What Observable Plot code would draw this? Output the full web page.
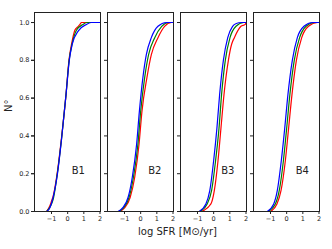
<!DOCTYPE html>
<html>
<head>
<meta charset="utf-8">
<script src="https://cdn.jsdelivr.net/npm/d3@7"></script>
<script src="https://cdn.jsdelivr.net/npm/@observablehq/plot@0.6"></script>
<style>
  html, body { margin: 0; padding: 0; background: #fff; }
</style>
</head>
<body>
<div id="chart"></div>
<script>
const panels = ["B1", "B2", "B3", "B4"];
const seriesNames = ["red", "green", "blue"];
const xTicks = [-1, 0, 1, 2];
const yTicks = [0, 0.2, 0.4, 0.6, 0.8, 1.0];
const xLabel = "log SFR [M⊙/yr]";
const yLabel = "N°";

// Cumulative curves: [log SFR, fraction]
const b1Red   = [[-1.3,0],[-1.1,0.03],[-0.98,0.06],[-0.9,0.08],[-0.65,0.2],[-0.38,0.39],[-0.1,0.62],[0.08,0.8],[0.25,0.89],[0.45,0.96],[0.6,0.975],[0.76,0.99],[0.85,1.0],[2,1.0]];
const b1Green = [[-1.3,0],[-1.05,0.03],[-0.88,0.07],[-0.64,0.2],[-0.37,0.39],[-0.1,0.62],[0.09,0.8],[0.27,0.885],[0.55,0.96],[0.95,0.99],[1.2,1.0],[2,1.0]];
const b1Blue  = [[-1.31,0],[-1.1,0.02],[-0.9,0.074],[-0.63,0.2],[-0.37,0.39],[-0.1,0.62],[0.1,0.8],[0.28,0.885],[0.66,0.956],[1.17,0.99],[1.47,1.0],[2,1.0]];

const b2Red   = [[-1.3,0],[-0.98,0.02],[-0.65,0.074],[-0.37,0.18],[-0.1,0.356],[0.08,0.53],[0.39,0.71],[0.66,0.83],[1.07,0.92],[1.48,0.98],[1.9,1.0],[2,1.0]];
const b2Green = [[-1.35,0],[-1.05,0.02],[-0.72,0.074],[-0.45,0.18],[-0.17,0.356],[0.0,0.53],[0.25,0.71],[0.49,0.83],[0.87,0.92],[1.3,0.98],[1.73,1.0],[2,1.0]];
const b2Blue  = [[-1.4,0],[-1.1,0.02],[-0.78,0.074],[-0.52,0.18],[-0.25,0.356],[-0.08,0.53],[0.14,0.71],[0.35,0.83],[0.66,0.92],[1.07,0.98],[1.59,1.0],[2,1.0]];

const b3Red   = [[-0.75,0],[-0.17,0.04],[0.04,0.11],[0.27,0.27],[0.45,0.44],[0.64,0.62],[0.91,0.8],[1.11,0.885],[1.28,0.92],[1.69,0.98],[1.95,0.99],[2,1.0]];
const b3Green = [[-0.85,0],[-0.4,0.04],[-0.13,0.11],[0.12,0.27],[0.33,0.44],[0.49,0.62],[0.72,0.8],[1.01,0.92],[1.38,0.98],[1.85,1.0],[2,1.0]];
const b3Blue  = [[-0.9,0],[-0.48,0.04],[-0.24,0.11],[0,0.27],[0.2,0.44],[0.37,0.62],[0.6,0.8],[0.87,0.92],[1.17,0.98],[1.4,0.995],[1.7,1.0],[2,1.0]];

const b4Red   = [[-1.0,0],[-0.6,0.04],[-0.35,0.11],[-0.08,0.27],[0.12,0.44],[0.33,0.62],[0.6,0.8],[0.93,0.92],[1.35,0.98],[1.9,1.0],[2,1.0]];
const b4Green = [[-1.15,0],[-0.7,0.04],[-0.46,0.11],[-0.2,0.27],[0.0,0.44],[0.2,0.62],[0.47,0.8],[0.8,0.92],[1.2,0.98],[1.7,1.0],[2,1.0]];
const b4Blue  = [[-1.2,0],[-0.8,0.04],[-0.58,0.11],[-0.33,0.27],[-0.12,0.44],[0.08,0.62],[0.35,0.8],[0.66,0.92],[1.07,0.98],[1.59,1.0],[2,1.0]];

// panel label anchor (data units)
const panelLabelX = [0.66, 0.87, 0.87, 0.97];
const panelLabelY = 0.215;

const curves = {
  B1: [b1Red, b1Green, b1Blue],
  B2: [b2Red, b2Green, b2Blue],
  B3: [b3Red, b3Green, b3Blue],
  B4: [b4Red, b4Green, b4Blue]
};

const rows = [];
for (const p of panels) {
  curves[p].forEach((arr, si) => {
    for (const [x, y] of arr) rows.push({panel: p, series: seriesNames[si], x, y});
  });
}
const labels = panels.map((p, i) => ({panel: p, x: panelLabelX[i], y: panelLabelY}));
const fmtX = d => (d < 0 ? "\u2212" + Math.abs(d) : String(d));

const chart = Plot.plot({
  width: 332,
  height: 249,
  marginLeft: 33,
  marginRight: 13,
  marginTop: 12,
  marginBottom: 38,
  style: {fontFamily: "DejaVu Sans", fontSize: "6.5px", color: "#222", background: "#fff"},
  fx: {domain: panels, paddingInner: 0.0959, paddingOuter: 0, axis: null, label: null},
  x: {domain: [-2.05, 2.03], label: null},
  y: {domain: [0, 1.053], label: null},
  color: {domain: seriesNames, range: ["#ff0000", "#008000", "#0000ff"]},
  marks: [
    Plot.line(rows, {fx: "panel", x: "x", y: "y", z: "series", stroke: "series", strokeWidth: 1.2, curve: "monotone-x", clip: true}),
    Plot.frame({stroke: "#222", strokeWidth: 1}),
    Plot.axisX({ticks: xTicks, tickFormat: fmtX, tickSize: 3, tickPadding: 2, label: null}),
    Plot.axisY({ticks: yTicks, tickFormat: d3.format(".1f"), tickSize: 3, tickPadding: 2, label: null}),
    Plot.axisY({ticks: yTicks, tickFormat: () => "", tickSize: 3, facetAnchor: null, label: null}),
    Plot.text(labels, {fx: "panel", x: "x", y: "y", text: "panel", fontSize: 10, fill: "#222"}),
    Plot.text([xLabel], {fx: () => "B2", frameAnchor: "bottom", lineAnchor: "middle", dy: 20, dx: 37, text: d => d, fontSize: 10, fill: "#222"}),
    Plot.text([yLabel], {fx: () => "B1", frameAnchor: "left", lineAnchor: "middle", dx: -26, rotate: -90, text: d => d, fontSize: 10, fill: "#222"})
  ]
});
document.getElementById("chart").appendChild(chart);
</script>
</body>
</html>
